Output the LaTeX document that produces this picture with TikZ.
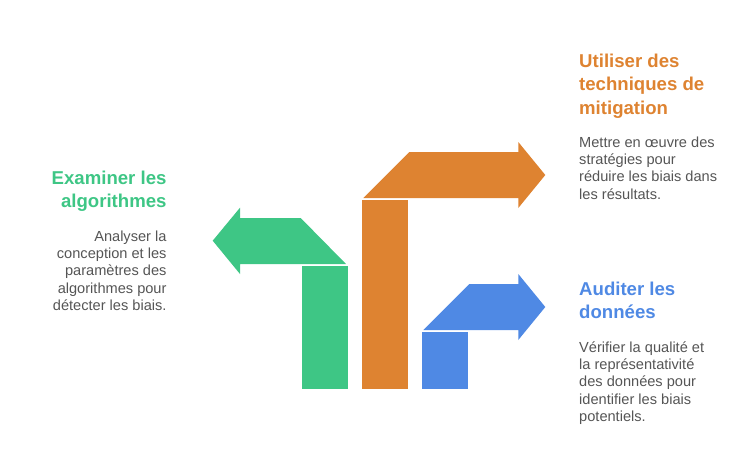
\documentclass[tikz,border=0pt]{standalone}
\usepackage{fontspec}
\setmainfont{Liberation Sans}
\definecolor{vert}{HTML}{3EC685}
\definecolor{orange}{HTML}{DE8331}
\definecolor{bleu}{HTML}{4F89E4}
\definecolor{texte}{HTML}{555555}
\begin{document}
\begin{tikzpicture}[x=1pt,y=-1pt,
    titre/.style={inner sep=0pt,font=\fontsize{18.6}{23.3}\selectfont\bfseries},
    corps/.style={inner sep=0pt,text=texte,font=\fontsize{14.6}{17.4}\selectfont}]
      \useasboundingbox (0,0) rectangle (747,475);

      % fleche verte
      \coordinate (G1) at (212.7,240.7);
      \coordinate (G2) at (240,207.7);
      \coordinate (G3) at (240,218);
      \coordinate (G4) at (300.7,218);
      \coordinate (G5) at (346,264);
      \coordinate (G6) at (240,264);
      \coordinate (G7) at (240,274);
      \fill[vert] (G1) -- (G2) -- (G3) -- (G4) -- (G5) -- (G6) -- (G7) -- cycle;
      \fill[vert] (301.7,266) rectangle (347.7,389.3);

      % fleche orange
      \coordinate (O1) at (363.3,198);
      \coordinate (O2) at (409.3,152);
      \coordinate (O3) at (518.3,152);
      \coordinate (O4) at (518.3,142);
      \coordinate (O5) at (545.3,175);
      \coordinate (O6) at (518.3,208);
      \coordinate (O7) at (518.3,198);
      \fill[orange] (O1) -- (O2) -- (O3) -- (O4) -- (O5) -- (O6) -- (O7) -- cycle;
      \fill[orange] (362,200) rectangle (408,389.3);

      % fleche bleue
      \coordinate (B1) at (423.3,330);
      \coordinate (B2) at (469.3,284);
      \coordinate (B3) at (518.3,284);
      \coordinate (B4) at (518.3,274);
      \coordinate (B5) at (545.3,307);
      \coordinate (B6) at (518.3,340);
      \coordinate (B7) at (518.3,330);
      \fill[bleu] (B1) -- (B2) -- (B3) -- (B4) -- (B5) -- (B6) -- (B7) -- cycle;
      \fill[bleu] (422,332) rectangle (468,389.3);

      % textes (ancre sur la derniere ligne)
      \node[titre,text=vert,anchor=base east,align=right] (tExam) at (166.7,207.3)
        {Examiner les\\algorithmes};
      \node[corps,anchor=base east,align=right] (dExam) at (166.7,310.7)
        {Analyser la\\conception et les\\paramètres des\\algorithmes pour\\détecter les biais.};

      \node[titre,text=orange,anchor=base west,align=left] (tUtil) at (579,114)
        {Utiliser des\\techniques de\\mitigation};
      \node[corps,anchor=base west,align=left] (dUtil) at (579,199.3)
        {Mettre en œuvre des\\stratégies pour\\réduire les biais dans\\les résultats.};

      \node[titre,text=bleu,anchor=base west,align=left] (tAudit) at (579,318.7)
        {Auditer les\\données};
      \node[corps,anchor=base west,align=left] (dAudit) at (579,421.7)
        {Vérifier la qualité et\\la représentativité\\des données pour\\identifier les biais\\potentiels.};
\end{tikzpicture}
\end{document}
